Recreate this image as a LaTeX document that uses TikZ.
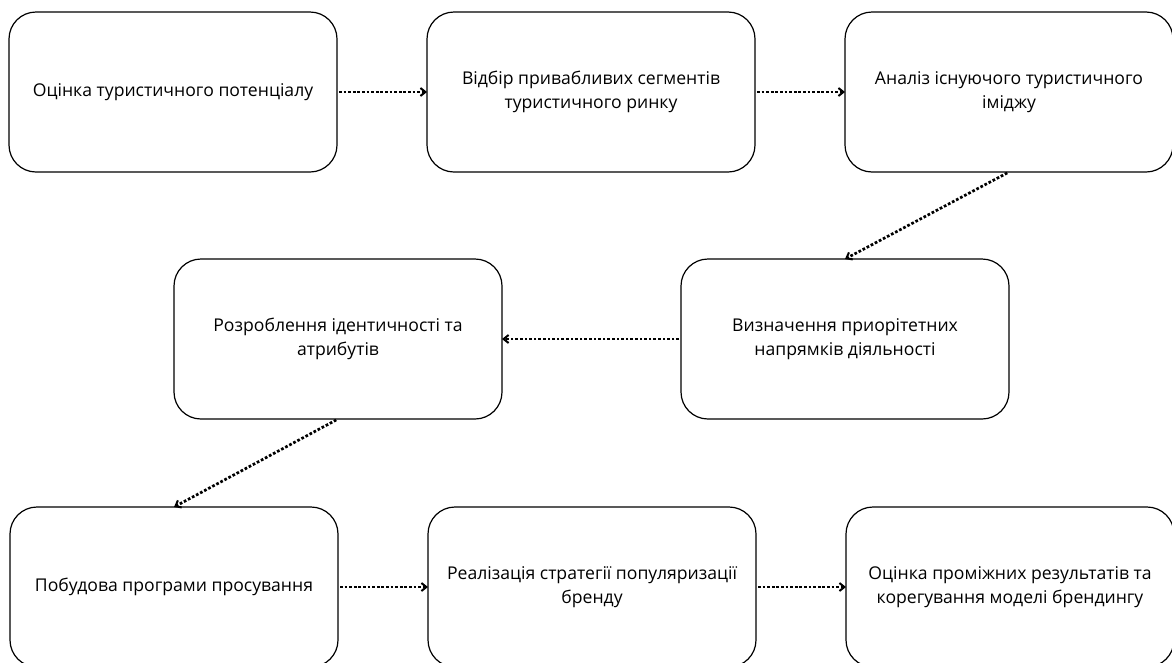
\documentclass[tikz,border=0pt]{standalone}
\usepackage{fontspec}
\setmainfont{Open Sans}
\usepackage{tikz}
\usetikzlibrary{positioning,arrows.meta}

\begin{document}
\begin{tikzpicture}[
x=1pt, y=-1pt,
stage/.style={rectangle, rounded corners=27pt, draw=black, line width=1.2pt, outer sep=0pt, minimum width=328pt, minimum height=160pt, align=center, font=\fontsize{17.6}{24}\selectfont},
flow/.style={line width=2.7pt, dash pattern=on 2.7pt off 1.9pt, shorten <=2pt, -{Straight Barb[length=5pt,width=8pt,line width=2pt]}}
]
\useasboundingbox (0,0) rectangle (1172,662);
%Nodes
\node[stage]      (b1)     at (173,92)                                          {Оцінка туристичного потенціалу};
\node[stage]      (b2)     [right=90pt of b1]                                  {Відбір привабливих сегментів\\туристичного ринку};
\node[stage]      (b3)     [right=90pt of b2]                                  {Аналіз існуючого туристичного\\іміджу};
\node[stage]      (b4)     [below=87pt of b3.south west, anchor=north]        {Визначення приорітетних\\напрямків діяльності};
\node[stage]      (b5)     [left=179pt of b4]                                  {Розроблення ідентичності та\\атрибутів};
\node[stage]      (b6)     [below=88pt of b5.south west, anchor=north]        {Побудова програми просування};
\node[stage]      (b7)     [right=90pt of b6]                                  {Реалізація стратегії популяризації\\бренду};
\node[stage]      (b8)     [right=90pt of b7]                                  {Оцінка проміжних результатів та\\корегування моделі брендингу};
%Lines
\draw[flow] (b1) -- (b2);
\draw[flow] (b2) -- (b3);
\draw[flow] (b3.south) -- (b4.north);
\draw[flow] (b4) -- (b5);
\draw[flow] (b5.south) -- (b6.north);
\draw[flow] (b6) -- (b7);
\draw[flow] (b7) -- (b8);
\end{tikzpicture}
\end{document}
